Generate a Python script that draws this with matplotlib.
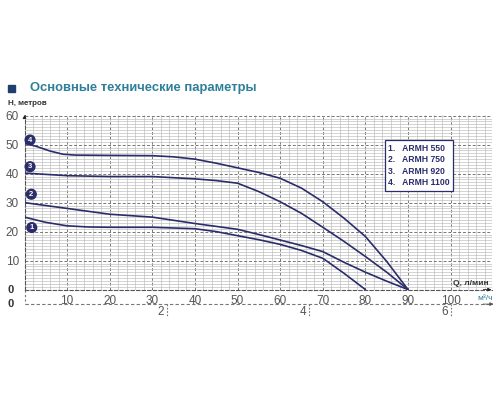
#!/usr/bin/env python3
"""Pump H-Q curves, ARMH series (recreated chart)."""

import matplotlib

matplotlib.use("Agg")
import matplotlib.pyplot as plt
from matplotlib.ticker import MultipleLocator

plt.rcParams["font.family"] = ["Liberation Sans Narrow", "Liberation Sans", "DejaVu Sans"]

# flow, l/min and head, m
q_550 = [0, 5, 10, 15, 20, 30, 40, 45, 50, 55, 60, 65, 70, 75, 80]
h_550 = [25, 23.2, 22, 21.6, 21.5, 21.5, 21, 20, 18.6, 17.2, 15.6, 13.5, 10.8, 5.6, 0]

q_750 = [0, 10, 20, 30, 40, 50, 55, 60, 65, 70, 75, 80, 85, 90]
h_750 = [30, 28, 26, 25, 22.8, 20.8, 19, 17.1, 15.2, 13.1, 9.4, 6, 2.9, 0]

q_920 = [0, 10, 20, 30, 40, 45, 50, 55, 60, 65, 70, 75, 80, 85, 90]
h_920 = [40.2, 39.3, 39, 39, 38.2, 37.6, 36.7, 33.8, 30.3, 26.3, 21.5, 16.6, 11.4, 6.0, 0]

q_1100 = [0, 3, 6, 9, 12, 20, 30, 35, 40, 45, 50, 55, 60, 65, 70, 75, 80, 85, 90]
h_1100 = [50.5, 49.3, 47.8, 46.7, 46.4, 46.3, 46.2, 45.8, 45.0, 43.6, 42.0, 40.4, 38.4,
          35.0, 30.3, 24.6, 18.3, 9.7, 0]

models = ["ARMH 550", "ARMH 750", "ARMH 920", "ARMH 1100"]
badge_q = [1.7, 1.6, 1.3, 1.3]
badge_h = [21.4, 32.9, 42.4, 51.6]

m3h_ticks = [2, 4, 6]

NAVY = "#2b2d6b"
TEAL = "#2e7f9a"

fig = plt.figure(figsize=(5, 4), dpi=100)
fig.patch.set_facecolor("white")
ax = fig.add_axes([0.049, 0.276, 0.935, 0.437])

ax.set_xlim(0, 109.7)
ax.set_ylim(0, 60.3)

# grid: thin solid minor, dashed major
ax.xaxis.set_major_locator(MultipleLocator(10))
ax.yaxis.set_major_locator(MultipleLocator(10))
ax.xaxis.set_minor_locator(MultipleLocator(2))
ax.yaxis.set_minor_locator(MultipleLocator(1))
ax.grid(which="minor", color="#c0c0c0", linewidth=0.5, linestyle="-")
ax.grid(which="major", color="#777777", linewidth=0.7, linestyle=(0, (3, 2)))
ax.set_axisbelow(True)

for s in ("top", "right"):
    ax.spines[s].set_visible(False)
for s in ("left", "bottom"):
    ax.spines[s].set_color("#555555")
    ax.spines[s].set_linestyle((0, (3, 2)))
    ax.spines[s].set_linewidth(0.8)

ax.tick_params(which="both", length=0, labelsize=8.5, colors="#555555", pad=4)
ax.set_xticks(range(10, 101, 10))
ax.set_yticks(range(10, 61, 10))

for q, h in ((q_550, h_550), (q_750, h_750), (q_920, h_920), (q_1100, h_1100)):
    ax.plot(q, h, color=NAVY, linewidth=1.2, solid_capstyle="round",
            solid_joinstyle="round", zorder=3)

for i, (bq, bh) in enumerate(zip(badge_q, badge_h)):
    ax.text(bq, bh, str(i + 1), ha="center", va="center", fontsize=5.5,
            fontweight="bold", color="white", zorder=5,
            family=["Liberation Sans", "DejaVu Sans"],
            bbox=dict(boxstyle="circle,pad=0.18", fc=NAVY, ec=NAVY))

legend_txt = "\n".join("%d.   %s" % (i + 1, m) for i, m in enumerate(models))
ax.text(0.778, 0.835, legend_txt, transform=ax.transAxes, ha="left", va="top",
        fontsize=6.2, fontweight="bold", color=NAVY, linespacing=1.35, zorder=6,
        bbox=dict(boxstyle="square,pad=0.42", fc="white", ec=NAVY, lw=0.9))

# axis arrows
ax.annotate("", xy=(0, 61.2), xytext=(0, 58), xycoords="data",
            arrowprops=dict(arrowstyle="-|>", color="#222222", lw=0.6,
                            mutation_scale=5), annotation_clip=False)
ax.annotate("", xy=(110.2, 0), xytext=(107, 0),
            arrowprops=dict(arrowstyle="-|>", color="#222222", lw=0.6,
                            mutation_scale=5), annotation_clip=False)

ax.text(109.0, 0.9, "Q, л/мин", ha="right", va="bottom", fontsize=6,
        fontweight="bold", color="#333333")
ax.text(109.8, -2.0, "м³/ч", ha="right", va="top", fontsize=6, color=TEAL)
ax.text(-2.6, 0, "0", ha="right", va="center", fontsize=8,
        fontweight="bold", color="#333333")

# second flow scale, m3/h
y2 = -5.0
ax.plot([0, 109.7], [y2, y2], color="#777777", lw=0.8, ls=(0, (3, 2)),
        clip_on=False)
ax.annotate("", xy=(110.7, y2), xytext=(107, y2),
            arrowprops=dict(arrowstyle="-|>", color="#555555", lw=0.6,
                            mutation_scale=5), annotation_clip=False)
ax.plot([0, 0], [0, y2], color="#777777", lw=0.8, ls=(0, (2, 2)),
        clip_on=False)
ax.text(-2.6, y2, "0", ha="right", va="center", fontsize=8,
        fontweight="bold", color="#333333")
for t in m3h_ticks:
    qx = t * 1000 / 60
    ax.plot([qx, qx], [y2, y2 - 4], color="#777777", lw=0.8,
            ls=(0, (1.5, 1.5)), clip_on=False)
    ax.text(qx - 0.6, y2 - 2.8, str(t), ha="right", va="center", fontsize=8.5,
            color="#555555")

# header
fig.patches.append(plt.Rectangle((0.016, 0.77), 0.014, 0.018,
                                 transform=fig.transFigure, color="#1f3f6e"))
fig.text(0.06, 0.765, "Основные технические параметры", fontsize=9.4,
         fontweight="bold", color=TEAL, ha="left", va="bottom",
         family=["Liberation Sans", "DejaVu Sans"])
fig.text(0.016, 0.733, "Н, метров", fontsize=5.8, fontweight="bold",
         color="#333333", ha="left", va="bottom")

fig.savefig("out.png", dpi=100, facecolor="white")
